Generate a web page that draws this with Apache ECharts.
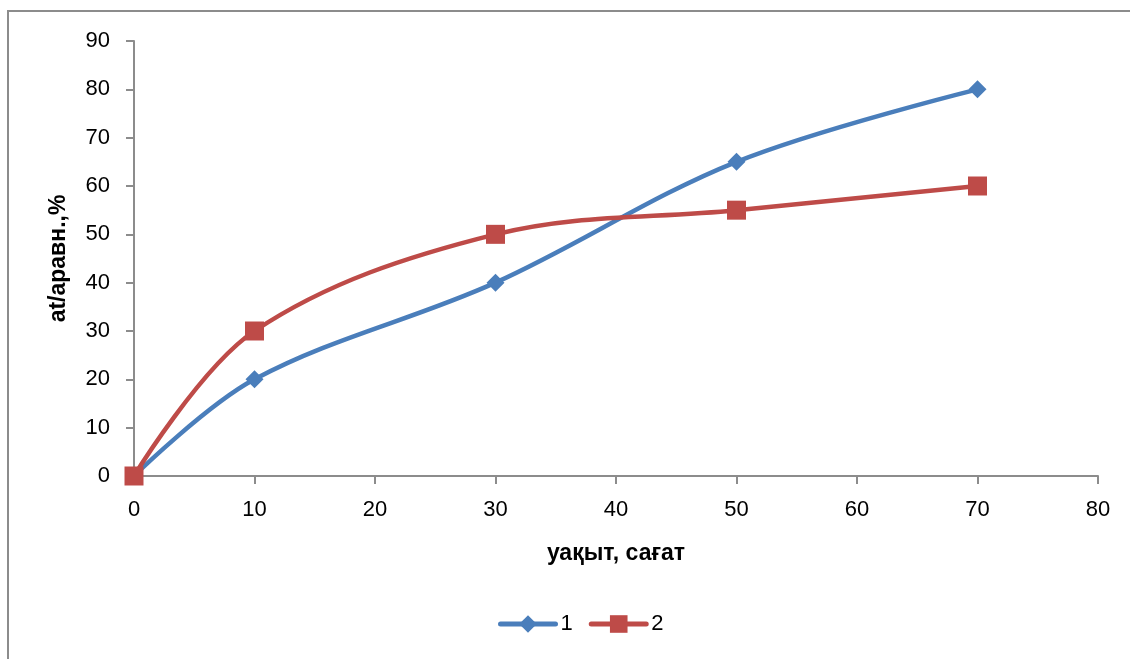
<!DOCTYPE html>
<html>
<head>
<meta charset="utf-8">
<style>
  html, body { margin: 0; padding: 0; background: #fff; }
  #chart { width: 1130px; height: 659px; }
</style>
<script src="https://cdn.jsdelivr.net/npm/echarts@6/dist/echarts.min.js"></script>
</head>
<body>
<div id="chart"></div>
<script>
// Measurement times (hours) and the two series
const hours = [0, 10, 30, 50, 70];
const series1 = [0, 20, 40, 65, 80];
const series2 = [0, 30, 50, 55, 60];
const seriesNames = ['1', '2'];
const xTitle = 'уақыт, сағат';
const yTitle = 'at/аравн.,%';

const FONT = '"Liberation Sans", "DejaVu Sans", sans-serif';
const AXIS_COLOR = '#8c8c8c';

const chart = echarts.init(document.getElementById('chart'));

function pairs(xs, ys) {
  return xs.map((x, i) => [x, ys[i]]);
}

chart.setOption({
  animation: false,
  graphic: [{
    type: 'rect',
    shape: { x: 8, y: 11, width: 1200, height: 700 },
    style: { fill: 'none', stroke: '#8c8c8c', lineWidth: 2 },
    silent: true
  }],
  grid: { left: 134, right: 32, top: 41, bottom: 183 },
  legend: {
    bottom: 19,
    left: 493,
    itemWidth: 55,
    itemHeight: 22,
    itemGap: 16,
    lineStyle: { width: 5, cap: 'round' },
    textStyle: { fontFamily: FONT, fontSize: 22, color: '#000', padding: [0, 0, 0, 0] },
    data: seriesNames
  },
  xAxis: {
    type: 'value',
    min: 0, max: 80, interval: 10,
    name: xTitle,
    nameLocation: 'middle',
    nameGap: 66,
    nameTextStyle: { fontFamily: FONT, fontSize: 23, fontWeight: 'bold', color: '#000' },
    axisLine: { show: true, lineStyle: { color: AXIS_COLOR, width: 2 } },
    axisTick: { show: true, length: 8, lineStyle: { color: AXIS_COLOR, width: 2 } },
    axisLabel: { fontFamily: FONT, fontSize: 22, color: '#000', margin: 23 },
    splitLine: { show: false }
  },
  yAxis: {
    type: 'value',
    min: 0, max: 90, interval: 10,
    name: yTitle,
    nameLocation: 'middle',
    nameGap: 64,
    nameTextStyle: { fontFamily: FONT, fontSize: 23, fontWeight: 'bold', color: '#000' },
    axisLine: { show: true, lineStyle: { color: AXIS_COLOR, width: 2 } },
    axisTick: { show: true, length: 8, lineStyle: { color: AXIS_COLOR, width: 2 } },
    axisLabel: { fontFamily: FONT, fontSize: 22, color: '#000', margin: 24 },
    splitLine: { show: false }
  },
  series: [
    {
      name: seriesNames[0],
      type: 'line',
      smooth: 0.35,
      data: pairs(hours, series1),
      symbol: 'diamond',
      symbolSize: 18,
      lineStyle: { color: '#4a7ebb', width: 4.5, cap: 'round' },
      itemStyle: { color: '#4a7ebb' },
      z: 3
    },
    {
      name: seriesNames[1],
      type: 'line',
      smooth: 0.35,
      data: pairs(hours, series2),
      symbol: 'rect',
      symbolSize: 19,
      lineStyle: { color: '#be4b48', width: 4.5, cap: 'round' },
      itemStyle: { color: '#be4b48' },
      z: 4
    }
  ]
});
</script>
</body>
</html>
